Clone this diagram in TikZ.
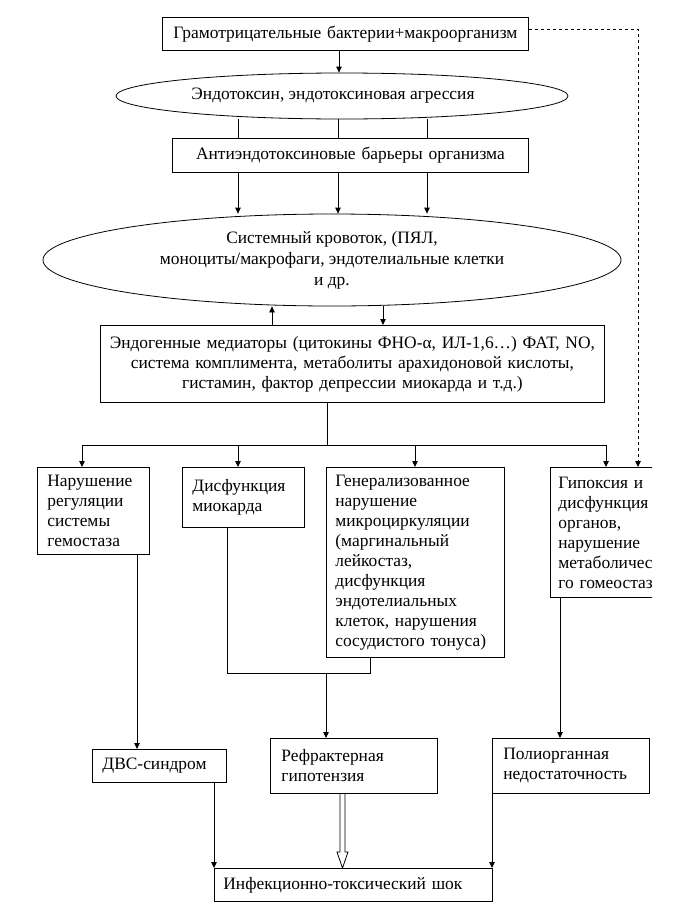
\documentclass[tikz,border=0pt]{standalone}
\usepackage{fontspec}
\setmainfont{Liberation Serif}
\usetikzlibrary{shapes.geometric,arrows.meta,calc}
\tikzset{
  ln/.style={line width=0.8pt},
  arr/.style={ln,-{Triangle[length=6pt,width=5.5pt]}},
  rbox/.style={draw,ln,anchor=north west,align=left,inner ysep=0pt},
  cbox/.style={draw,ln,anchor=north west,align=center,inner ysep=0pt},
  ell/.style={draw,ln,ellipse,inner sep=0pt,align=center}
}
\begin{document}
\begin{tikzpicture}[x=1pt,y=-1pt,font=\fontsize{17.4pt}{20pt}\selectfont]
\useasboundingbox (0,0) rectangle (674,913);
\fill[white] (0,0) rectangle (674,913);

% top
\node[cbox,text width=346pt,inner xsep=10pt,minimum height=33pt] (top) at (162,17)
  {Грамотрицательные бактерии+макроорганизм};
\node[ell,minimum width=452pt,minimum height=46pt] (ell1) at (342,96)
  {Эндотоксин, эндотоксиновая агрессия\hspace*{18pt}};
\node[cbox,text width=336pt,inner xsep=10pt,minimum height=34pt] (anti) at (172,138)
  {Антиэндотоксиновые барьеры организма};
\node[ell,minimum width=578pt,minimum height=92pt,font=\fontsize{17.4pt}{21pt}\selectfont] (ell2) at (332,260)
  {Системный кровоток, (ПЯЛ,\\моноциты/макрофаги, эндотелиальные клетки\\и др.};
\node[cbox,text width=496pt,inner xsep=4pt,minimum height=77pt] (med) at (100,325)
  {Эндогенные медиаторы (цитокины ФНО-α, ИЛ-1,6…) ФАТ, NO,\\система комплимента, метаболиты арахидоновой кислоты,\\гистамин, фактор депрессии миокарда и т.д.)};

% middle row
\node[rbox,text width=92pt,inner xsep=10pt,minimum height=87pt] (boxA) at (37,467)
  {Нарушение\\регуляции\\системы\\гемостаза};
\node[rbox,text width=102pt,inner xsep=10pt,minimum height=60pt] (boxB) at (182,467)
  {Дисфункция\\миокарда};
\node[rbox,text width=160pt,inner xsep=9pt,minimum height=190pt] (boxC) at (326,467)
  {Генерализованное\\нарушение\\микроциркуляции\\(маргинальный\\лейкостаз,\\дисфункция\\эндотелиальных\\клеток, нарушения\\сосудистого тонуса)};
\begin{scope}
  \clip (0,0) rectangle (652,913);
  \node[rbox,text width=134pt,inner xsep=8pt,minimum height=130pt] (boxD) at (550,467)
    {Гипоксия и\\дисфункция\\органов,\\нарушение\\метаболичес\\го гомеостаз};
\end{scope}

% bottom row
\node[rbox,text width=114pt,inner xsep=10pt,minimum height=33pt] (dvs) at (92,749)
  {ДВС-синдром};
\node[rbox,text width=145pt,inner xsep=11pt,minimum height=55pt] (ref) at (270,738)
  {Рефрактерная\\гипотензия};
\node[rbox,text width=135pt,inner xsep=11pt,minimum height=55pt] (poly) at (492,738)
  {Полиорганная\\недостаточность};
\node[rbox,text width=260pt,inner xsep=9pt,minimum height=33pt] (shock) at (214,868)
  {Инфекционно-токсический шок};

% coordinates
\coordinate (x1) at (339,0);
\coordinate (xa) at (238,0);
\coordinate (xb) at (338,0);
\coordinate (xc) at (427,0);
\coordinate (xu) at (272,0);
\coordinate (xd) at (383,0);
\coordinate (j0) at (327,445);
\coordinate (aA) at (82,445);
\coordinate (aB) at (238,445);
\coordinate (aC) at (415,445);
\coordinate (aD) at (606,445);
\coordinate (xdash) at (638,0);
\coordinate (xA) at (137,0);
\coordinate (xB) at (227,0);
\coordinate (xC) at (370,0);
\coordinate (jr) at (326,673);
\coordinate (xD) at (560,0);
\coordinate (xo) at (342.5,0);

% connectors top part
\draw[arr] (top.south -| x1) -- (x1 |- ell1.north);
\foreach \c in {xa,xb,xc}{
  \draw[ln] (\c |- ell1.south) -- (\c |- anti.north);
  \draw[arr] (anti.south -| \c) -- (\c |- ell2.north);
}
\draw[arr] (med.north -| xu) -- (xu |- ell2.south);
\draw[arr] (xd |- ell2.south) -- (med.north -| xd);
\draw[arr,dashed,dash pattern=on 3.5pt off 2.5pt] ([yshift=5pt]top.east) -| (boxD.north -| xdash);

% distribution
\draw[ln] (med.south -| j0) -- (j0);
\draw[ln] (aA) -- (aD);
\draw[arr] (aA) -- (aA |- boxA.north);
\draw[arr] (aB) -- (aB |- boxB.north);
\draw[arr] (aC) -- (aC |- boxC.north);
\draw[arr] (aD) -- (aD |- boxD.north);

% lower connectors
\draw[arr] (boxA.south -| xA) -- (dvs.north -| xA);
\draw[ln] (boxB.south -| xB) |- (jr);
\draw[ln] (jr) -| (boxC.south -| xC);
\draw[arr] (jr) -- (ref.north -| jr);
\draw[arr] (boxD.south -| xD) -- (poly.north -| xD);
\draw[arr] (dvs.south -| shock.north west) -- (shock.north west);
\draw[arr] (poly.south west) -- (poly.south west |- shock.north);

% open double arrow
\draw[ln,line join=miter]
  ($(ref.south -| xo)+(-2.5,0)$) -- ($(shock.north -| xo)+(-2.5,-16)$)
  -- ($(shock.north -| xo)+(-5.5,-16)$) -- (shock.north -| xo)
  -- ($(shock.north -| xo)+(5.5,-16)$) -- ($(shock.north -| xo)+(2.5,-16)$)
  -- ($(ref.south -| xo)+(2.5,0)$);
\end{tikzpicture}
\end{document}
